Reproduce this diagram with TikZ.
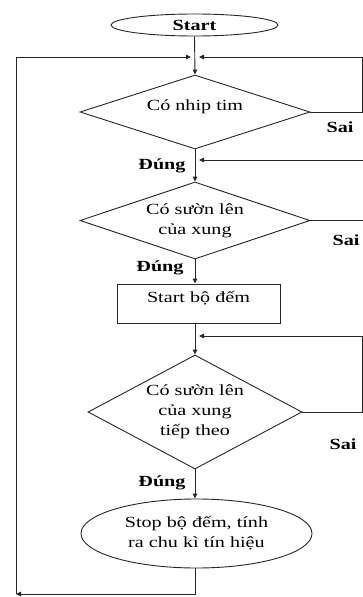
\documentclass[tikz,border=0pt]{standalone}
\usepackage{fontspec}
\setmainfont{Liberation Serif}[FakeStretch=1.3]
\usetikzlibrary{shapes.geometric,arrows.meta}
\begin{document}
\begin{tikzpicture}[x=1pt,y=-1pt,
  every node/.style={font=\fontsize{15.5}{20}\selectfont},
  ln/.style={draw=black!85, line width=0.9pt},
  arr/.style={ln, -{Triangle[length=5pt,width=4.5pt]}},
  dec/.style={diamond, ln, inner sep=0pt, align=center},
  lbl/.style={font=\fontsize{15.5}{20}\selectfont\bfseries}]
\useasboundingbox (0,0) rectangle (363,597);
% nodes
\node[ellipse, ln, minimum width=167pt, minimum height=22pt, inner sep=0pt,
      font=\fontsize{15.5}{20}\selectfont\bfseries] (start) at (194.5,25) {Start};
\node[dec, shape aspect=3, minimum width=230pt, minimum height=74pt,
      text height=11pt, text depth=15pt] (d1) at (195,112) {Có nhip tim};
\node[dec, shape aspect=3, minimum width=230pt, minimum height=77pt] (d2) at (195,220.5) {Có sườn lên\\của xung};
\node[rectangle, ln, minimum width=163pt, minimum height=39pt, inner sep=0pt,
      text height=11pt, text depth=13pt] (rect) at (198.5,303.5) {Start bộ đếm};
\node[dec, shape aspect=1.9, minimum width=214pt, minimum height=114pt] (d3) at (195,412) {Có sườn lên\\của xung\\tiếp theo};
\node[ellipse, ln, minimum width=231pt, minimum height=69pt, inner sep=0pt, align=center] (stop) at (196.5,533.5) {Stop bộ đếm, tính\\ra chu kì tín hiệu};
% labels
\node[lbl] (y1) at (162,166) {Đúng};
\node[lbl] (y2) at (160,268) {Đúng};
\node[lbl] (y3) at (162,483) {Đúng};
\node[lbl] (n1) at (340,127) {Sai};
\node[lbl] (n2) at (346,240) {Sai};
\node[lbl] (n3) at (343,444) {Sai};
% coordinates
\coordinate (bl) at (16,594);
\coordinate (tl) at (16,57);
\coordinate (jl) at (191,57);
\coordinate (jr) at (199,57);
\coordinate (r1) at (362,57);
\coordinate (r2) at (366,160);
\coordinate (j2) at (199,160);
\coordinate (r3) at (362,336);
\coordinate (j3) at (199,336);
% connectors
\draw[arr] (start.south) -- (d1.north);
\draw[arr] (d1.south) -- (d2.north);
\draw[arr] (d2.south) -- (d2.south |- rect.north);
\draw[arr] (d3.north |- rect.south) -- (d3.north);
\draw[arr] (d3.south) -- (d3.south |- stop.north);
\draw[arr] (d3.south |- stop.south) |- (bl);
\draw[arr] (bl) -- (tl) -- (jl);
\draw[arr] (d1.east) -| (r1) -- (jr);
\draw[arr] (d2.east) -| (r2) -- (j2);
\draw[arr] (d3.east) -| (r3) -- (j3);
\end{tikzpicture}
\end{document}
